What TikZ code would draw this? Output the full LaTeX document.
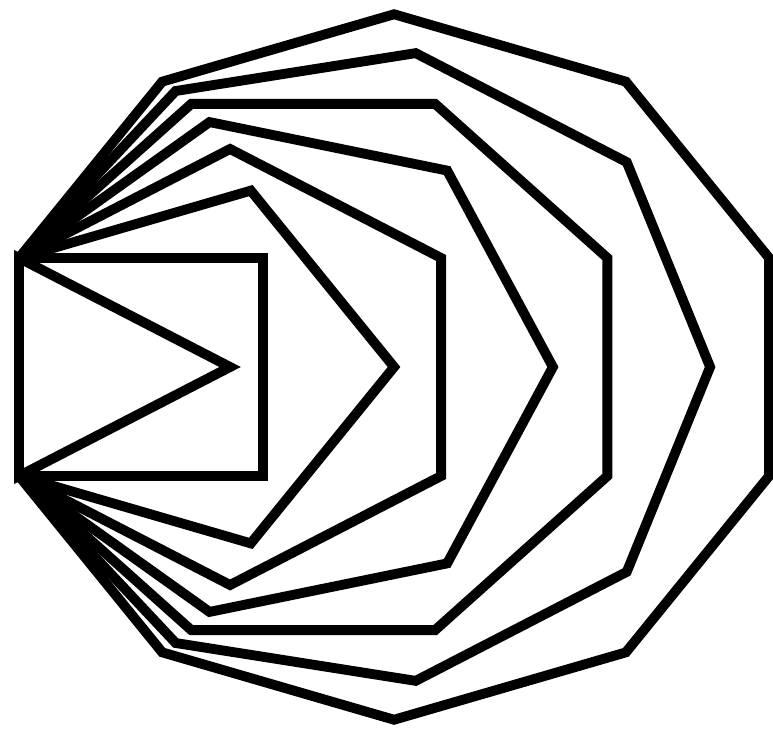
\documentclass[tikz,border=0pt]{standalone}
\usepackage{tikz}
\begin{document}
\begin{tikzpicture}[x=0.02cm, y=0.02cm,
  polyline/.style={line width=5.6pt, line join=miter, draw=black}
]
\useasboundingbox (0,0) rectangle (773,-732);
\coordinate (base) at (19,-476);
\begin{scope}[shift={(base)}, xscale=1.118]
\foreach \n in {3,...,10}{
  \pgfmathtruncatemacro{\last}{\n-2}
  \draw[polyline] (0,0) \foreach \k in {0,...,\last}{ -- ++({90-\k*360/\n}:218) } -- cycle;
}
\end{scope}
\end{tikzpicture}
\end{document}
